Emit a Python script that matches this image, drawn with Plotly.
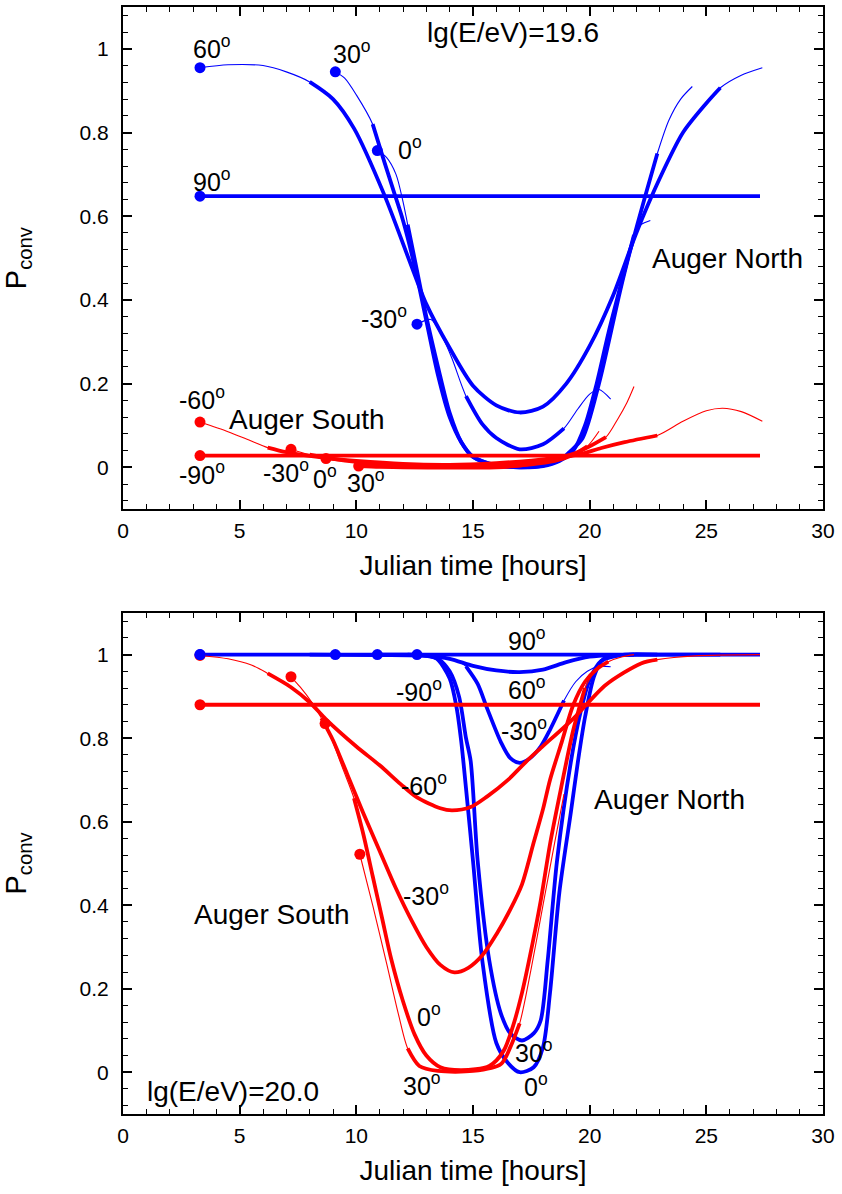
import plotly.graph_objects as go

BLUE = "#0000ff"
RED = "#ff0000"

# ---------------- Top panel: lg(E/eV)=19.6 ----------------
# Auger North (blue)
top_n90_t = [3.3, 27.3]
top_n90_p = [0.648, 0.648]
top_n90_thick = (0, 1)

top_n60_t = [3.3, 4.5, 6.0, 7.0, 8.0, 9.0, 9.9, 11.2, 12.3, 13.0, 14.0, 15.0, 16.0, 17.0, 18.0, 19.0, 20.0, 21.0, 22.0, 23.0, 24.0, 25.0, 25.6, 26.5, 27.4]
top_n60_p = [0.955, 0.962, 0.96, 0.945, 0.921, 0.88, 0.81, 0.651, 0.49, 0.39, 0.285, 0.195, 0.148, 0.131, 0.145, 0.2, 0.29, 0.41, 0.56, 0.69, 0.80, 0.87, 0.907, 0.937, 0.955]
top_n60_thick = (4, 22)

top_n30_t = [9.1, 9.5, 10.0, 10.7, 11.2, 11.6, 12.0, 12.5, 13.0, 13.5, 14.0, 14.5, 15.0, 16.0, 17.0, 18.0, 18.8, 19.2, 19.7, 20.4, 21.3, 21.7, 22.4, 22.9, 23.4, 23.9, 24.4]
top_n30_p = [0.945, 0.93, 0.89, 0.82, 0.73, 0.66, 0.59, 0.48, 0.35, 0.22, 0.12, 0.06, 0.025, 0.005, 0.0, 0.004, 0.02, 0.04, 0.07, 0.2, 0.42, 0.51, 0.652, 0.75, 0.83, 0.88, 0.91]
top_n30_thick = (3, 23)

top_n0_t = [10.9, 11.3, 11.7, 12.0, 12.2, 12.6, 13.0, 13.5, 14.0, 14.5, 15.0, 16.0, 17.0, 18.0, 18.7, 19.3, 19.8, 20.3, 20.8, 21.4, 21.9, 22.2, 22.6]
top_n0_p = [0.757, 0.74, 0.70, 0.635, 0.58, 0.47, 0.36, 0.24, 0.13, 0.06, 0.025, 0.004, 0.0, 0.003, 0.015, 0.04, 0.1, 0.2, 0.32, 0.45, 0.555, 0.58, 0.59]
top_n0_thick = (4, 20)

top_nm30_t = [12.6, 13.2, 13.7, 14.1, 14.7, 15.4, 16.0, 17.0, 18.0, 18.9, 19.5, 20.0, 20.4, 20.9]
top_nm30_p = [0.342, 0.353, 0.31, 0.26, 0.17, 0.103, 0.07, 0.043, 0.055, 0.093, 0.14, 0.175, 0.186, 0.163]
top_nm30_thick = (4, 9)

# Auger South (red)
top_sm90_t = [3.3, 27.3]
top_sm90_p = [0.028, 0.028]
top_sm90_thick = (0, 1)

top_sm60_t = [3.3, 4.5, 5.4, 6.2, 7.0, 8.0, 9.0, 10.0, 12.0, 14.0, 16.0, 17.5, 18.5, 19.5, 20.5, 21.5, 22.9, 24.0, 25.0, 25.7, 26.5, 27.4]
top_sm60_p = [0.108, 0.085, 0.065, 0.047, 0.036, 0.027, 0.02, 0.015, 0.008, 0.006, 0.01, 0.016, 0.022, 0.03, 0.046, 0.06, 0.076, 0.11, 0.135, 0.141, 0.133, 0.11]
top_sm60_thick = (3, 16)

top_sm30_t = [7.2, 8.0, 9.0, 10.0, 12.0, 14.0, 16.0, 17.5, 18.5, 19.3, 20.0, 20.7, 21.2, 21.6, 21.9]
top_sm30_p = [0.043, 0.03, 0.02, 0.013, 0.006, 0.004, 0.006, 0.012, 0.02, 0.032, 0.05, 0.072, 0.115, 0.155, 0.193]
top_sm30_thick = (1, 11)

top_s0_t = [8.7, 10.0, 12.0, 14.0, 16.0, 17.5, 18.5, 19.3, 19.9, 20.4]
top_s0_p = [0.021, 0.012, 0.004, 0.001, 0.002, 0.007, 0.015, 0.03, 0.05, 0.086]
top_s0_thick = (1, 8)

top_s30_t = [10.1, 11.0, 12.0, 14.0, 16.0, 17.0, 17.8, 18.4]
top_s30_p = [0.003, 0.001, 0.0, -0.001, 0.0, 0.004, 0.012, 0.025]
top_s30_thick = (0, 7)

# ---------------- Bottom panel: lg(E/eV)=20.0 ----------------
bot_n90_t = [3.3, 27.3]
bot_n90_p = [1.0, 1.0]
bot_n90_thick = (0, 1)

bot_n60_t = [3.3, 6.0, 8.0, 11.0, 13.0, 14.0, 15.0, 16.0, 17.0, 18.0, 19.0, 20.0, 21.0, 23.0, 25.6, 27.3]
bot_n60_p = [1.0, 1.0, 1.0, 0.999, 0.997, 0.99, 0.973, 0.962, 0.958, 0.964, 0.982, 0.995, 0.999, 1.0, 1.0, 1.0]
bot_n60_thick = (2, 14)

bot_n30_t = [9.1, 10.7, 12.0, 13.0, 13.5, 14.0, 14.4, 14.7, 14.9, 15.2, 15.7, 16.2, 16.6, 17.1, 17.6, 17.9, 18.2, 18.6, 19.2, 19.6, 20.0, 20.5, 21.5, 22.9, 24.4]
bot_n30_p = [1.0, 1.0, 1.0, 0.998, 0.99, 0.96, 0.9, 0.8, 0.745, 0.506, 0.267, 0.14, 0.093, 0.076, 0.093, 0.124, 0.267, 0.506, 0.745, 0.86, 0.94, 0.985, 1.0, 1.0, 1.0]
bot_n30_thick = (1, 23)

bot_n0_t = [10.9, 12.2, 13.0, 13.45, 14.0, 14.3, 14.5, 14.7, 15.0, 15.4, 16.0, 16.5, 17.0, 17.6, 18.0, 18.3, 18.7, 19.2, 19.5, 19.8, 20.2, 20.6, 21.9, 22.6]
bot_n0_p = [1.0, 1.0, 0.997, 0.99, 0.943, 0.872, 0.79, 0.68, 0.506, 0.267, 0.07, 0.022, 0.0, 0.012, 0.06, 0.19, 0.43, 0.625, 0.745, 0.85, 0.95, 0.99, 1.0, 1.0]
bot_n0_thick = (1, 22)

bot_nm30_t = [12.6, 13.5, 14.2, 14.7, 15.2, 15.6, 16.2, 16.6, 17.0, 17.4, 17.9, 18.3, 18.9, 19.4, 19.9, 20.4, 20.9]
bot_nm30_p = [1.0, 0.996, 0.988, 0.972, 0.93, 0.872, 0.79, 0.752, 0.741, 0.75, 0.78, 0.82, 0.89, 0.935, 0.96, 0.972, 0.971]
bot_nm30_thick = (3, 12)

bot_sm90_t = [3.3, 27.3]
bot_sm90_p = [0.88, 0.88]
bot_sm90_thick = (0, 1)

bot_sm60_t = [3.3, 4.5, 5.5, 6.2, 7.2, 8.0, 8.7, 10.0, 11.0, 11.9, 12.6, 13.6, 14.1, 14.9, 15.6, 16.5, 17.3, 17.9, 19.3, 20.7, 22.2, 22.9, 24.5, 27.3]
bot_sm60_p = [0.998, 0.99, 0.975, 0.955, 0.922, 0.886, 0.845, 0.78, 0.735, 0.69, 0.658, 0.632, 0.627, 0.635, 0.66, 0.70, 0.745, 0.776, 0.847, 0.928, 0.979, 0.988, 0.997, 1.0]
bot_sm60_thick = (3, 21)

bot_sm30_t = [7.2, 7.6, 8.1, 8.5, 9.0, 9.6, 10.3, 11.0, 11.7, 12.4, 13.0, 13.6, 14.2, 14.8, 15.4, 16.0, 16.6, 17.1, 17.6, 18.0, 18.3, 18.8, 19.3, 19.8, 20.3, 20.8, 21.4, 21.9]
bot_sm30_p = [0.947, 0.922, 0.885, 0.848, 0.795, 0.715, 0.62, 0.53, 0.44, 0.36, 0.30, 0.257, 0.239, 0.25, 0.28, 0.33, 0.39, 0.45, 0.55, 0.63, 0.70, 0.79, 0.88, 0.935, 0.965, 0.983, 0.995, 1.0]
bot_sm30_thick = (3, 25)

bot_s0_t = [8.66, 9.0, 9.4, 9.9, 10.3, 10.7, 11.1, 11.5, 12.0, 12.5, 13.0, 13.6, 14.5, 15.7, 16.3, 16.7, 17.1, 17.4, 17.9, 18.3, 18.7, 19.3, 19.8, 20.4]
bot_s0_p = [0.835, 0.79, 0.73, 0.656, 0.57, 0.47, 0.37, 0.27, 0.17, 0.09, 0.04, 0.012, 0.005, 0.015, 0.05, 0.108, 0.19, 0.267, 0.41, 0.546, 0.66, 0.82, 0.92, 0.975]
bot_s0_thick = (3, 22)

bot_s30_t = [10.15, 10.7, 11.3, 11.8, 12.2, 12.7, 13.5, 15.0, 16.2, 16.6, 17.0, 17.5, 18.0, 18.5, 18.9]
bot_s30_p = [0.522, 0.40, 0.26, 0.14, 0.057, 0.015, 0.003, 0.003, 0.02, 0.06, 0.117, 0.25, 0.4, 0.55, 0.666]
bot_s30_thick = (4, 10)

# Labels: (text, x, y)
top_labels = [("60<sup>o</sup>", 3.8, 1.005), ("30<sup>o</sup>", 9.8, 0.993), ("0<sup>o</sup>", 12.3, 0.764),
              ("90<sup>o</sup>", 3.8, 0.687), ("-30<sup>o</sup>", 11.2, 0.358), ("-60<sup>o</sup>", 3.4, 0.165),
              ("-90<sup>o</sup>", 3.4, -0.014), ("-30<sup>o</sup>", 7.0, -0.01), ("0<sup>o</sup>", 8.66, -0.024),
              ("30<sup>o</sup>", 10.4, -0.033)]
top_big_labels = [("Auger South", 7.9, 0.115), ("Auger North", 25.9, 0.5), ("lg(E/eV)=19.6", 16.7, 1.04)]
bot_labels = [("90<sup>o</sup>", 17.3, 1.038), ("60<sup>o</sup>", 17.3, 0.921), ("-30<sup>o</sup>", 17.2, 0.821),
              ("-90<sup>o</sup>", 12.7, 0.916), ("-60<sup>o</sup>", 12.9, 0.69), ("-30<sup>o</sup>", 13.0, 0.427),
              ("0<sup>o</sup>", 13.1, 0.138), ("30<sup>o</sup>", 12.8, -0.029), ("30<sup>o</sup>", 17.6, 0.05),
              ("0<sup>o</sup>", 17.7, -0.031)]
bot_big_labels = [("Auger North", 23.4, 0.654), ("Auger South", 6.4, 0.377), ("lg(E/eV)=20.0", 4.7, -0.047)]

fig = go.Figure()
markers = []


def add_curve(t, p, thick, color, xa, ya):
    i0, i1 = thick
    line_kw = dict(color=color, shape="spline", smoothing=0.8)
    fig.add_trace(go.Scatter(x=t, y=p, mode="lines", line=dict(width=1.1, **line_kw),
                             xaxis=xa, yaxis=ya, hoverinfo="skip", showlegend=False))
    fig.add_trace(go.Scatter(x=t[i0:i1 + 1], y=p[i0:i1 + 1], mode="lines", line=dict(width=3.8, **line_kw),
                             xaxis=xa, yaxis=ya, hoverinfo="skip", showlegend=False))
    markers.append((t[0], p[0], color, xa, ya))


top_north = [(top_n90_t, top_n90_p, top_n90_thick), (top_n60_t, top_n60_p, top_n60_thick),
             (top_n30_t, top_n30_p, top_n30_thick), (top_n0_t, top_n0_p, top_n0_thick),
             (top_nm30_t, top_nm30_p, top_nm30_thick)]
top_south = [(top_sm90_t, top_sm90_p, top_sm90_thick), (top_sm60_t, top_sm60_p, top_sm60_thick),
             (top_sm30_t, top_sm30_p, top_sm30_thick), (top_s0_t, top_s0_p, top_s0_thick),
             (top_s30_t, top_s30_p, top_s30_thick)]
bot_north = [(bot_n90_t, bot_n90_p, bot_n90_thick), (bot_n60_t, bot_n60_p, bot_n60_thick),
             (bot_n30_t, bot_n30_p, bot_n30_thick), (bot_n0_t, bot_n0_p, bot_n0_thick),
             (bot_nm30_t, bot_nm30_p, bot_nm30_thick)]
bot_south = [(bot_sm90_t, bot_sm90_p, bot_sm90_thick), (bot_sm60_t, bot_sm60_p, bot_sm60_thick),
             (bot_sm30_t, bot_sm30_p, bot_sm30_thick), (bot_s0_t, bot_s0_p, bot_s0_thick),
             (bot_s30_t, bot_s30_p, bot_s30_thick)]

for t, p, th in top_north:
    add_curve(t, p, th, BLUE, "x", "y")
for t, p, th in top_south:
    add_curve(t, p, th, RED, "x", "y")
for t, p, th in bot_north:
    add_curve(t, p, th, BLUE, "x2", "y2")
for t, p, th in bot_south:
    add_curve(t, p, th, RED, "x2", "y2")

# start-point dots: red first, blue on top
for col in (RED, BLUE):
    for (x0, y0, c, xa, ya) in markers:
        if c == col:
            fig.add_trace(go.Scatter(x=[x0], y=[y0], mode="markers", marker=dict(color=c, size=11),
                                     xaxis=xa, yaxis=ya, hoverinfo="skip", showlegend=False))

FONT = "Liberation Sans, Arial, sans-serif"
annotations = []
for txt, x, y in top_labels:
    annotations.append(dict(text=txt, x=x, y=y, xref="x", yref="y", showarrow=False,
                            font=dict(size=25, color="black", family=FONT)))
for txt, x, y in top_big_labels:
    annotations.append(dict(text=txt, x=x, y=y, xref="x", yref="y", showarrow=False,
                            font=dict(size=28, color="black", family=FONT)))
for txt, x, y in bot_labels:
    annotations.append(dict(text=txt, x=x, y=y, xref="x2", yref="y2", showarrow=False,
                            font=dict(size=25, color="black", family=FONT)))
for txt, x, y in bot_big_labels:
    annotations.append(dict(text=txt, x=x, y=y, xref="x2", yref="y2", showarrow=False,
                            font=dict(size=28, color="black", family=FONT)))

xaxis_common = dict(range=[0, 30], dtick=5, tick0=0, ticks="inside", ticklen=9, tickwidth=1.5,
                    tickcolor="black", showline=True, linewidth=2, linecolor="black", mirror="ticks",
                    showgrid=False, zeroline=False, ticklabelstandoff=2,
                    minor=dict(dtick=1, tick0=0, ticks="inside", ticklen=5, tickwidth=1.2, tickcolor="black"),
                    tickfont=dict(size=21, color="black", family=FONT),
                    title=dict(text="Julian time [hours]", font=dict(size=28, color="black", family=FONT), standoff=14))
yaxis_common = dict(range=[-0.1, 1.1], dtick=0.2, tick0=0, ticks="inside", ticklen=9, tickwidth=1.5,
                    tickcolor="black", showline=True, linewidth=2, linecolor="black", mirror="ticks",
                    showgrid=False, zeroline=False, ticklabelstandoff=8,
                    minor=dict(dtick=0.04, tick0=0, ticks="inside", ticklen=5, tickwidth=1.2, tickcolor="black"),
                    tickfont=dict(size=21, color="black", family=FONT),
                    title=dict(text="P<sub>conv</sub>", font=dict(size=29, color="black", family=FONT), standoff=46))

fig.update_layout(
    width=842, height=1194,
    margin=dict(l=123, r=19, t=5, b=80),
    paper_bgcolor="white", plot_bgcolor="white",
    showlegend=False,
    xaxis=dict(domain=[0, 1], anchor="y", **xaxis_common),
    yaxis=dict(domain=[0.5464, 1], anchor="x", **yaxis_common),
    xaxis2=dict(domain=[0, 1], anchor="y2", **xaxis_common),
    yaxis2=dict(domain=[0, 0.4527], anchor="x2", **yaxis_common),
    annotations=annotations,
)

fig.write_html("out.html", config={"displayModeBar": False},
               post_script="document.body.style.margin='0px';")
